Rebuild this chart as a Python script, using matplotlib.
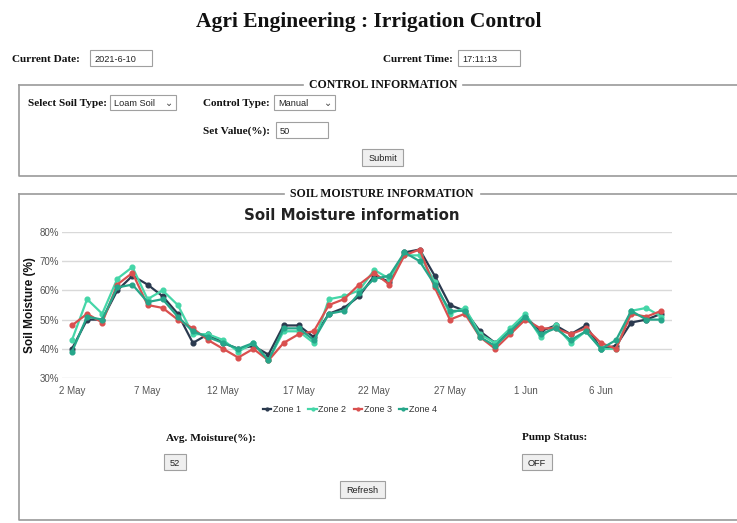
import matplotlib.pyplot as plt
import matplotlib.dates as mdates
from matplotlib.patches import Rectangle
import pandas as pd

dates = pd.date_range('2021-05-02', '2021-06-10', freq='D')
zone1 = [40, 50, 50, 60, 65, 62, 58, 52, 42, 45, 42, 40, 41, 38, 48, 48, 44, 52, 54, 58,
         65, 63, 73, 74, 65, 55, 53, 46, 42, 46, 51, 46, 48, 45, 48, 40, 41, 49, 50, 52]
zone2 = [43, 57, 52, 64, 68, 57, 60, 55, 45, 45, 43, 39, 42, 36, 46, 46, 42, 57, 58, 60,
         67, 64, 72, 72, 63, 52, 54, 45, 42, 47, 52, 44, 48, 42, 46, 40, 40, 53, 54, 51]
zone3 = [48, 52, 49, 62, 66, 55, 54, 50, 47, 43, 40, 37, 40, 36, 42, 45, 46, 55, 57, 62,
         66, 62, 72, 74, 61, 50, 52, 44, 40, 45, 50, 47, 47, 45, 47, 42, 40, 52, 51, 53]
zone4 = [39, 51, 50, 61, 62, 56, 57, 51, 46, 44, 42, 40, 42, 36, 47, 47, 43, 52, 53, 59,
         64, 65, 73, 70, 62, 53, 53, 44, 41, 46, 51, 45, 47, 43, 46, 40, 43, 53, 50, 50]
zone_names = ['Zone 1', 'Zone 2', 'Zone 3', 'Zone 4']
zone_colors = ['#2b3a4f', '#45d6a8', '#d9504f', '#26a68a']

current_date = '2021-6-10'
current_time = '17:11:13'
soil_type = 'Loam Soil'
control_type = 'Manual'
set_value = '50'
avg_moisture = '52'
pump_status = 'OFF'

W, H = 737, 523
fig = plt.figure(figsize=(W / 100, H / 100), dpi=100)
fig.patch.set_facecolor('white')

# page layer in pixel coordinates
bg = fig.add_axes([0, 0, 1, 1])
bg.set_xlim(0, W)
bg.set_ylim(H, 0)
bg.axis('off')

serif = 'Liberation Serif'
sans = 'Liberation Sans'


def label(x, y, s, size=8.1, ha='left'):
    bg.text(x, y, s, fontsize=size, fontweight='bold', family=serif, ha=ha,
            va='center_baseline', color='#111111')


def box(x0, y0, w, h, s, button=False, arrow=False):
    fc = '#efefef' if button else 'white'
    bg.add_patch(Rectangle((x0, y0), w, h, fc=fc, ec='#a0a0a0', lw=0.8))
    if button:
        bg.text(x0 + w / 2, y0 + h / 2, s, fontsize=6.6, family=sans, ha='center',
                va='center_baseline', color='#222222')
    else:
        bg.text(x0 + 4, y0 + h / 2, s, fontsize=6.6, family=sans, ha='left',
                va='center_baseline', color='#222222')
    if arrow:
        bg.text(x0 + w - 7, y0 + h / 2, '\u2304', fontsize=7, family='DejaVu Sans',
                ha='center', va='center', color='#444444')


bg.text(369, 22, 'Agri Engineering : Irrigation Control', fontsize=15.5, fontweight='bold',
        family=serif, ha='center', va='center', color='#111111')

label(12, 58, 'Current Date:')
box(90, 50, 62, 16, current_date)
label(383, 58, 'Current Time:')
box(458, 50, 62, 16, current_time)

# control fieldset
bg.plot([19, 19, 745], [85, 176, 176], color='#9a9a9a', lw=1.2)
bg.plot([19, 303], [85, 85], color='#9a9a9a', lw=1.2)
bg.plot([463, 745], [85, 85], color='#9a9a9a', lw=1.2)
bg.text(383, 85, 'CONTROL INFORMATION', fontsize=8.5, fontweight='bold', family=serif,
        ha='center', va='center', color='#111111')
label(28, 102, 'Select Soil Type:')
box(110, 95, 66, 15, soil_type, arrow=True)
label(203, 102, 'Control Type:')
box(274, 95, 61, 15, control_type, arrow=True)
label(203, 130, 'Set Value(%):')
box(276, 122, 52, 16, set_value)
box(362, 149, 41, 17, 'Submit', button=True)

# soil moisture fieldset
bg.plot([19, 19, 745], [194, 520, 520], color='#9a9a9a', lw=1.2)
bg.plot([19, 284], [194, 194], color='#9a9a9a', lw=1.2)
bg.plot([481, 745], [194, 194], color='#9a9a9a', lw=1.2)
bg.text(382, 194, 'SOIL MOISTURE INFORMATION', fontsize=8.5, fontweight='bold', family=serif,
        ha='center', va='center', color='#111111')

bg.text(352, 216, 'Soil Moisture information', fontsize=10.8, fontweight='bold',
        family='DejaVu Sans', ha='center', va='center', color='#222222')
bg.text(30, 305, 'Soil Moisture (%)', fontsize=8.5, fontweight='bold', family=sans,
        rotation=90, ha='center', va='center', color='#111111')

label(166, 437, 'Avg. Moisture(%):')
box(164, 454, 22, 16, avg_moisture, button=True)
label(522, 437, 'Pump Status:')
box(522, 454, 30, 16, pump_status, button=True)
box(340, 481, 45, 17, 'Refresh', button=True)

# chart
ax = fig.add_axes([62 / W, 1 - 378 / H, (672 - 62) / W, (378 - 232) / H])
for vals, name, col in zip([zone1, zone2, zone3, zone4], zone_names, zone_colors):
    ax.plot(dates, vals, color=col, lw=1.6, marker='o', ms=3.4, label=name)

ax.set_ylim(30, 80)
ax.set_yticks([30, 40, 50, 60, 70, 80])
ax.set_yticklabels([f'{v}%' for v in [30, 40, 50, 60, 70, 80]])
ax.set_xlim(dates[0] - pd.Timedelta(days=0.66), dates[-1] + pd.Timedelta(days=0.7))
ax.set_xticks(dates[::5])
ax.xaxis.set_major_formatter(mdates.DateFormatter('%-d %b'))
ax.grid(axis='y', color='#d9d9d9', lw=1)
ax.set_axisbelow(True)
for s in ax.spines.values():
    s.set_visible(False)
ax.tick_params(length=0, labelsize=7, colors='#555555', pad=6)
ax.tick_params(axis='y', pad=2)
for t in ax.get_xticklabels() + ax.get_yticklabels():
    t.set_family(sans)

leg = fig.legend(loc='center', bbox_to_anchor=(350 / W, 1 - 410 / H), ncol=4, frameon=False,
                 fontsize=6.5, handlelength=0.9, handletextpad=0.2, columnspacing=0.8,
                 markerscale=0.6)
for t in leg.get_texts():
    t.set_family(sans)
    t.set_color('#333333')

plt.savefig('out.png', dpi=100)
